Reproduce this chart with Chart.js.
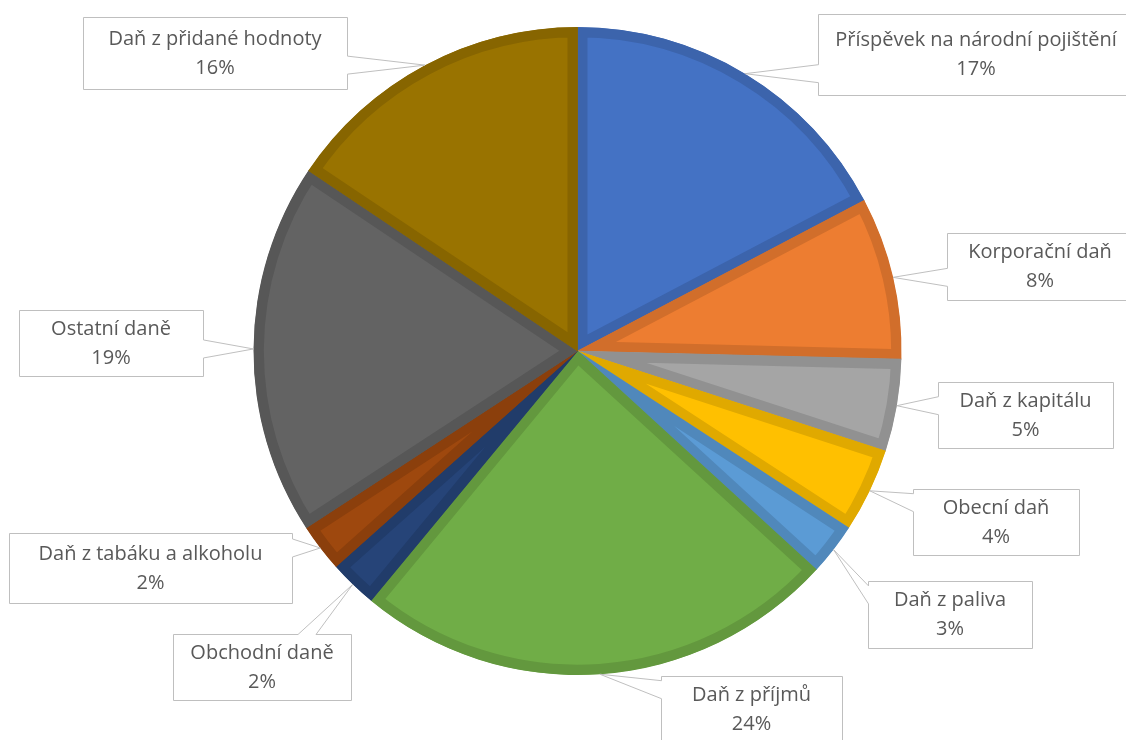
<!DOCTYPE html>
<html>
<head>
<meta charset="utf-8">
<script src="https://cdn.jsdelivr.net/npm/chart.js@4"></script>
<style>
  html, body { margin: 0; padding: 0; background: #fff; }
  #wrap { position: relative; width: 1126px; height: 740px; }
</style>
</head>
<body>
<div id="wrap"><canvas id="chart" width="1126" height="740"></canvas></div>
<script>
// Tax categories, clockwise from 12 o'clock
const taxLabels = [
  'Příspěvek na národní pojištění',
  'Korporační daň',
  'Daň z kapitálu',
  'Obecní daň',
  'Daň z paliva',
  'Daň z příjmů',
  'Obchodní daně',
  'Daň z tabáku a alkoholu',
  'Ostatní daně',
  'Daň z přidané hodnoty'
];
// Shares (percent)
const taxShares = [17.3, 8.1, 4.6, 4.2, 2.6, 24.2, 2.4, 2.4, 18.6, 15.6];

// Office palette
const sliceColors = ['#4472C4', '#ED7D31', '#A5A5A5', '#FFC000', '#5B9BD5',
                     '#70AD47', '#264478', '#9E480E', '#636363', '#997300'];

// Callout boxes: [left, top, width, height] in canvas pixels
const calloutBoxes = [
  [818, 14, 316, 81],
  [947, 233, 186, 67],
  [938, 382, 175, 66],
  [913, 489, 166, 66],
  [868, 581, 164, 67],
  [661, 676, 181, 66],
  [173, 634, 178, 66],
  [9, 533, 283, 70],
  [19, 310, 184, 66],
  [83, 17, 264, 72]
];

const darken = (hex, f) => {
  const n = parseInt(hex.slice(1), 16);
  const r = Math.round(((n >> 16) & 255) * f);
  const g = Math.round(((n >> 8) & 255) * f);
  const b = Math.round((n & 255) * f);
  return `rgb(${r}, ${g}, ${b})`;
};

const clamp = (v, lo, hi) => Math.min(Math.max(v, lo), hi);

// Draws Excel style data callouts (box + wedge pointer to the slice edge)
const calloutPlugin = {
  id: 'callouts',
  afterDatasetsDraw(chart) {
    const ctx = chart.ctx;
    const meta = chart.getDatasetMeta(0);
    const total = taxShares.reduce((a, b) => a + b, 0);

    meta.data.forEach((arc, i) => {
      const { x, y, startAngle, endAngle, outerRadius } =
        arc.getProps(['x', 'y', 'startAngle', 'endAngle', 'outerRadius'], true);
      const mid = (startAngle + endAngle) / 2;
      const ax = x + Math.cos(mid) * outerRadius;
      const ay = y + Math.sin(mid) * outerRadius;

      const [bx0, by0, bw, bh] = calloutBoxes[i];
      const bx = bx0 + 0.5, by = by0 + 0.5;

      const gapX = ax < bx ? bx - ax : (ax > bx + bw ? ax - (bx + bw) : 0);
      const gapY = ay < by ? by - ay : (ay > by + bh ? ay - (by + bh) : 0);
      let side;
      if (gapY > gapX) side = ay < by ? 'top' : 'bottom';
      else side = ax < bx ? 'left' : 'right';

      const half = 9;
      let c;
      if (side === 'top' || side === 'bottom') {
        c = clamp(ax, bx + bw * 0.25, bx + bw * 0.75);
      } else {
        c = clamp(ay, by + bh * 0.2, by + bh * 0.8);
      }

      ctx.save();
      ctx.beginPath();
      ctx.moveTo(bx, by);
      if (side === 'top') { ctx.lineTo(c - half, by); ctx.lineTo(ax, ay); ctx.lineTo(c + half, by); }
      ctx.lineTo(bx + bw, by);
      if (side === 'right') { ctx.lineTo(bx + bw, c - half); ctx.lineTo(ax, ay); ctx.lineTo(bx + bw, c + half); }
      ctx.lineTo(bx + bw, by + bh);
      if (side === 'bottom') { ctx.lineTo(c + half, by + bh); ctx.lineTo(ax, ay); ctx.lineTo(c - half, by + bh); }
      ctx.lineTo(bx, by + bh);
      if (side === 'left') { ctx.lineTo(bx, c + half); ctx.lineTo(ax, ay); ctx.lineTo(bx, c - half); }
      ctx.closePath();
      ctx.fillStyle = '#ffffff';
      ctx.fill();
      ctx.strokeStyle = '#BFBFBF';
      ctx.lineWidth = 1;
      ctx.stroke();

      const pct = Math.round(taxShares[i] / total * 100) + '%';
      const cx = bx0 + bw / 2;
      const cy = by0 + bh / 2;
      ctx.fillStyle = '#595959';
      ctx.font = '20px "Open Sans", sans-serif';
      ctx.textAlign = 'center';
      ctx.textBaseline = 'middle';
      ctx.fillText(taxLabels[i], cx, cy - 14);
      ctx.fillText(pct, cx, cy + 15);
      ctx.restore();
    });
  }
};

new Chart(document.getElementById('chart'), {
  type: 'pie',
  data: {
    labels: taxLabels,
    datasets: [{
      data: taxShares,
      backgroundColor: sliceColors,
      borderColor: sliceColors.map(c => darken(c, 0.88)),
      borderWidth: 10,
      borderAlign: 'inner',
      borderJoinStyle: 'miter'
    }]
  },
  options: {
    responsive: false,
    animation: false,
    layout: { padding: { left: 29, right: 0, top: 27, bottom: 65 } },
    plugins: {
      legend: { display: false },
      tooltip: { enabled: false }
    }
  },
  plugins: [calloutPlugin]
});
</script>
</body>
</html>
